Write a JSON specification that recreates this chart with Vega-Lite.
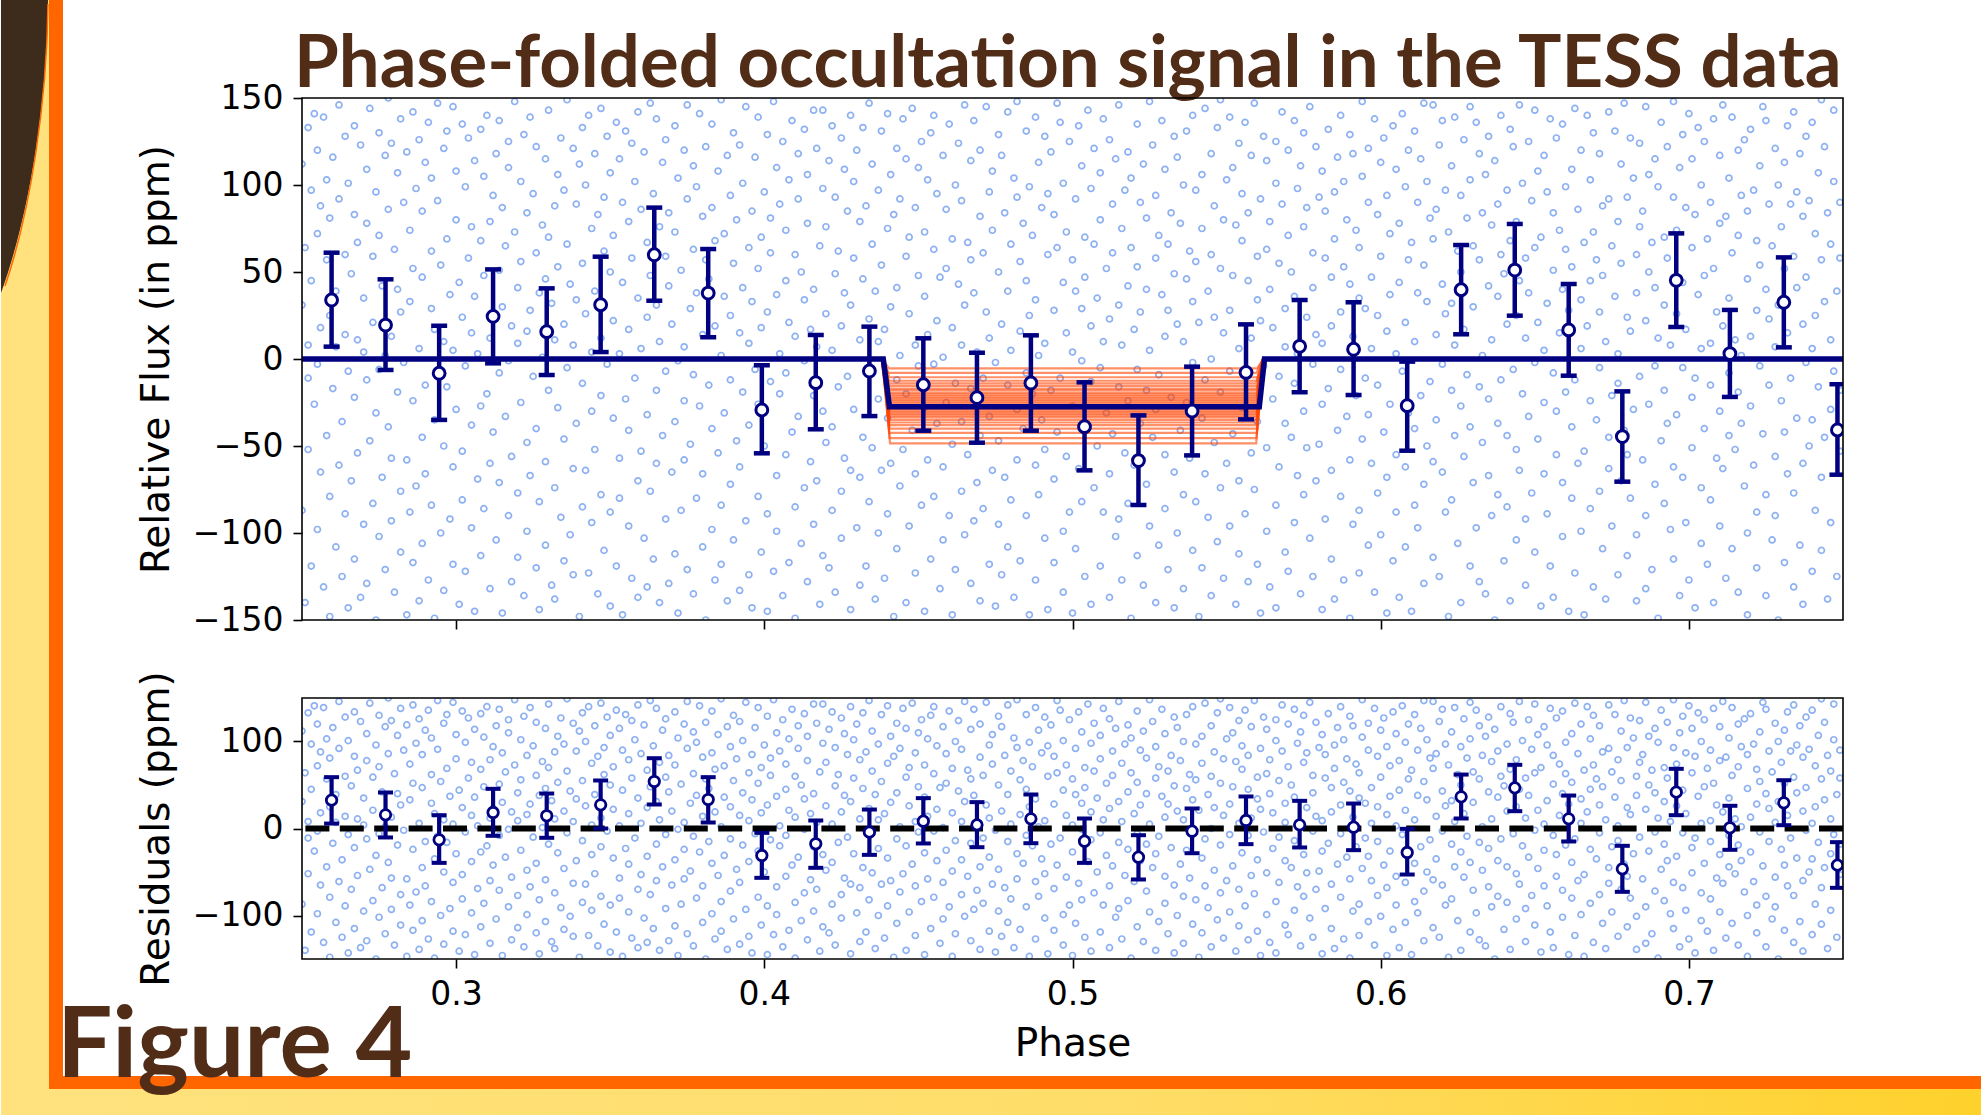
{
"$schema": "https://vega.github.io/schema/vega-lite/v6.json",
"padding": 0,
"background": "#ffffff",
"bounds": "flush",
"spacing": 78,
"config": {
  "view": {"stroke": null},
  "axis": {"zindex": 1, "grid": false, "domain": false, "labelFont": "DejaVu Sans", "labelFontSize": 33, "labelColor": "#000000", "titleFont": "DejaVu Sans", "titleFontSize": 39, "titleFontWeight": "normal", "titleColor": "#000000", "tickColor": "#000000", "tickWidth": 1.6, "tickSize": 9, "labelPadding": 10, "labelFlush": false, "labelOverlap": false},
  "axisY": {"titlePadding": 16},
  "axisX": {"titlePadding": 13}
},
"datasets": {
"bins": [
{"p":0.2596,"v":33.9,"lo":7.1,"hi":61.1,"r":32.6,"rlo":5.7,"rhi":59},
{"p":0.2771,"v":19.5,"lo":-6.3,"hi":45.8,"r":15.7,"rlo":-10.3,"rhi":41.4},
{"p":0.2945,"v":-8.2,"lo":-35,"hi":19.1,"r":-13,"rlo":-39.5,"rhi":15.3},
{"p":0.312,"v":24.5,"lo":-2.5,"hi":51.5,"r":18.4,"rlo":-8.4,"rhi":45.6},
{"p":0.3294,"v":15.7,"lo":-9.2,"hi":40.6,"r":14.6,"rlo":-10.7,"rhi":40.2},
{"p":0.3469,"v":31.2,"lo":4,"hi":58.8,"r":27.2,"rlo":0,"rhi":55.2},
{"p":0.3643,"v":59.9,"lo":33.5,"hi":87,"r":54,"rlo":27.6,"rhi":80.8},
{"p":0.3818,"v":37.9,"lo":12.5,"hi":63.2,"r":33.3,"rlo":6.9,"rhi":59},
{"p":0.3992,"v":-29.3,"lo":-54.2,"hi":-3.6,"r":-31,"rlo":-56.7,"rhi":-5},
{"p":0.4167,"v":-13.6,"lo":-40.4,"hi":13.8,"r":-17.6,"rlo":-45.2,"rhi":9.2},
{"p":0.4341,"v":-6.9,"lo":-32.8,"hi":18.6,"r":-4.2,"rlo":-30.3,"rhi":21.8},
{"p":0.4516,"v":-14.8,"lo":-41.2,"hi":11.9,"r":8.4,"rlo":-17.2,"rhi":34.9},
{"p":0.469,"v":-22.2,"lo":-48.1,"hi":3.6,"r":4.2,"rlo":-21.5,"rhi":30.3},
{"p":0.4865,"v":-13.8,"lo":-41.2,"hi":13.6,"r":11.1,"rlo":-16.9,"rhi":39.1},
{"p":0.5039,"v":-38.9,"lo":-64,"hi":-13.4,"r":-14.6,"rlo":-39.5,"rhi":11.5},
{"p":0.5214,"v":-58.4,"lo":-83.9,"hi":-32.4,"r":-33,"rlo":-58.6,"rhi":-7.7},
{"p":0.5388,"v":-29.9,"lo":-55.4,"hi":-4.4,"r":-3.1,"rlo":-28.4,"rhi":23},
{"p":0.5563,"v":-7.7,"lo":-34.7,"hi":19.9,"r":9.2,"rlo":-18,"rhi":36.8},
{"p":0.5737,"v":7.3,"lo":-19.1,"hi":33.9,"r":4.2,"rlo":-21.8,"rhi":31.8},
{"p":0.5912,"v":5.6,"lo":-20.7,"hi":32.6,"r":1.5,"rlo":-24.9,"rhi":28.7},
{"p":0.6086,"v":-26.8,"lo":-52.7,"hi":-1.5,"r":-27.6,"rlo":-52.9,"rhi":-0.4},
{"p":0.6261,"v":39.8,"lo":14.2,"hi":65.5,"r":36.4,"rlo":11.5,"rhi":62},
{"p":0.6435,"v":51.1,"lo":24.9,"hi":77.6,"r":46.7,"rlo":19.9,"rhi":73.2},
{"p":0.661,"v":16.7,"lo":-9.6,"hi":43.1,"r":11.1,"rlo":-14.9,"rhi":37.9},
{"p":0.6784,"v":-44.6,"lo":-70.5,"hi":-18.6,"r":-46.4,"rlo":-72.8,"rhi":-19.9},
{"p":0.6959,"v":45.2,"lo":18.4,"hi":72.2,"r":41.8,"rlo":15.3,"rhi":68.6},
{"p":0.7133,"v":3.1,"lo":-21.8,"hi":28.2,"r":0.8,"rlo":-24.5,"rhi":26.1},
{"p":0.7308,"v":32.6,"lo":6.7,"hi":58.4,"r":29.5,"rlo":3.8,"rhi":55.5},
{"p":0.7482,"v":-40.8,"lo":-66.5,"hi":-14.5,"r":-42.1,"rlo":-68.2,"rhi":-15.7}
],
"model": [
{"p":0.25,"m":0},{"p":0.4386,"m":0},{"p":0.4406,"m":-27.4},{"p":0.5606,"m":-27.4},{"p":0.5623,"m":0},{"p":0.75,"m":0}
],
"samples": [
{"s":1,"p":0.4384,"f":0},{"s":1,"p":0.4404,"f":-5.4},{"s":1,"p":0.5599,"f":-5.4},{"s":1,"p":0.5619,"f":0},
{"s":2,"p":0.4381,"f":0},{"s":2,"p":0.4403,"f":-8},{"s":2,"p":0.5597,"f":-8},{"s":2,"p":0.5618,"f":0},
{"s":3,"p":0.4385,"f":0},{"s":3,"p":0.4406,"f":-10.5},{"s":3,"p":0.5600,"f":-10.5},{"s":3,"p":0.5621,"f":0},
{"s":4,"p":0.4382,"f":0},{"s":4,"p":0.4404,"f":-12.5},{"s":4,"p":0.5598,"f":-12.5},{"s":4,"p":0.5620,"f":0},
{"s":5,"p":0.4386,"f":0},{"s":5,"p":0.4405,"f":-14},{"s":5,"p":0.5596,"f":-14},{"s":5,"p":0.5617,"f":0},
{"s":6,"p":0.4380,"f":0},{"s":6,"p":0.4403,"f":-15.5},{"s":6,"p":0.5601,"f":-15.5},{"s":6,"p":0.5622,"f":0},
{"s":7,"p":0.4384,"f":0},{"s":7,"p":0.4406,"f":-17},{"s":7,"p":0.5599,"f":-17},{"s":7,"p":0.5619,"f":0},
{"s":8,"p":0.4383,"f":0},{"s":8,"p":0.4405,"f":-18},{"s":8,"p":0.5597,"f":-18},{"s":8,"p":0.5620,"f":0},
{"s":9,"p":0.4385,"f":0},{"s":9,"p":0.4404,"f":-19.5},{"s":9,"p":0.5600,"f":-19.5},{"s":9,"p":0.5618,"f":0},
{"s":10,"p":0.4381,"f":0},{"s":10,"p":0.4406,"f":-20.5},{"s":10,"p":0.5598,"f":-20.5},{"s":10,"p":0.5621,"f":0},
{"s":11,"p":0.4386,"f":0},{"s":11,"p":0.4405,"f":-21.5},{"s":11,"p":0.5599,"f":-21.5},{"s":11,"p":0.5619,"f":0},
{"s":12,"p":0.4382,"f":0},{"s":12,"p":0.4404,"f":-22.5},{"s":12,"p":0.5597,"f":-22.5},{"s":12,"p":0.5620,"f":0},
{"s":13,"p":0.4384,"f":0},{"s":13,"p":0.4406,"f":-23.5},{"s":13,"p":0.5601,"f":-23.5},{"s":13,"p":0.5622,"f":0},
{"s":14,"p":0.4383,"f":0},{"s":14,"p":0.4405,"f":-24.5},{"s":14,"p":0.5598,"f":-24.5},{"s":14,"p":0.5618,"f":0},
{"s":15,"p":0.4385,"f":0},{"s":15,"p":0.4407,"f":-25.5},{"s":15,"p":0.5600,"f":-25.5},{"s":15,"p":0.5620,"f":0},
{"s":16,"p":0.4381,"f":0},{"s":16,"p":0.4404,"f":-26.5},{"s":16,"p":0.5599,"f":-26.5},{"s":16,"p":0.5621,"f":0},
{"s":17,"p":0.4384,"f":0},{"s":17,"p":0.4405,"f":-27.5},{"s":17,"p":0.5597,"f":-27.5},{"s":17,"p":0.5619,"f":0},
{"s":18,"p":0.4386,"f":0},{"s":18,"p":0.4406,"f":-28.5},{"s":18,"p":0.5600,"f":-28.5},{"s":18,"p":0.5620,"f":0},
{"s":19,"p":0.4382,"f":0},{"s":19,"p":0.4405,"f":-29.5},{"s":19,"p":0.5598,"f":-29.5},{"s":19,"p":0.5618,"f":0},
{"s":20,"p":0.4383,"f":0},{"s":20,"p":0.4407,"f":-30.5},{"s":20,"p":0.5601,"f":-30.5},{"s":20,"p":0.5622,"f":0},
{"s":21,"p":0.4385,"f":0},{"s":21,"p":0.4404,"f":-31.5},{"s":21,"p":0.5599,"f":-31.5},{"s":21,"p":0.5619,"f":0},
{"s":22,"p":0.4381,"f":0},{"s":22,"p":0.4406,"f":-32.5},{"s":22,"p":0.5597,"f":-32.5},{"s":22,"p":0.5620,"f":0},
{"s":23,"p":0.4384,"f":0},{"s":23,"p":0.4405,"f":-33.5},{"s":23,"p":0.5600,"f":-33.5},{"s":23,"p":0.5621,"f":0},
{"s":24,"p":0.4386,"f":0},{"s":24,"p":0.4407,"f":-35},{"s":24,"p":0.5598,"f":-35},{"s":24,"p":0.5618,"f":0},
{"s":25,"p":0.4382,"f":0},{"s":25,"p":0.4406,"f":-36.5},{"s":25,"p":0.5599,"f":-36.5},{"s":25,"p":0.5620,"f":0},
{"s":26,"p":0.4383,"f":0},{"s":26,"p":0.4405,"f":-38},{"s":26,"p":0.5597,"f":-38},{"s":26,"p":0.5619,"f":0},
{"s":27,"p":0.4385,"f":0},{"s":27,"p":0.4407,"f":-40},{"s":27,"p":0.5600,"f":-40},{"s":27,"p":0.5621,"f":0},
{"s":28,"p":0.4381,"f":0},{"s":28,"p":0.4406,"f":-42.5},{"s":28,"p":0.5598,"f":-42.5},{"s":28,"p":0.5619,"f":0},
{"s":29,"p":0.4384,"f":0},{"s":29,"p":0.4407,"f":-45.5},{"s":29,"p":0.5597,"f":-45.5},{"s":29,"p":0.5618,"f":0},
{"s":30,"p":0.4383,"f":0},{"s":30,"p":0.4408,"f":-48.5},{"s":30,"p":0.5596,"f":-48.5},{"s":30,"p":0.5617,"f":0}
],
"pts": [
{"p":0.250,"f":-87},{"p":0.250,"f":112},{"p":0.250,"f":31},
{"p":0.251,"f":-140},{"p":0.251,"f":64},
{"p":0.252,"f":8},{"p":0.252,"f":-52},{"p":0.252,"f":133},{"p":0.252,"f":-11},
{"p":0.253,"f":97},{"p":0.253,"f":-119},{"p":0.253,"f":45},
{"p":0.254,"f":-26},{"p":0.254,"f":141},
{"p":0.255,"f":72},{"p":0.255,"f":-98},{"p":0.255,"f":-3},{"p":0.255,"f":120},
{"p":0.256,"f":-65},{"p":0.256,"f":18},{"p":0.256,"f":88},
{"p":0.257,"f":139},{"p":0.257,"f":-131},
{"p":0.258,"f":-44},{"p":0.258,"f":57},{"p":0.258,"f":103},
{"p":0.259,"f":25},{"p":0.259,"f":-79},{"p":0.259,"f":-148},{"p":0.259,"f":81},
{"p":0.260,"f":116},{"p":0.260,"f":-17},
{"p":0.261,"f":-108},{"p":0.261,"f":39},{"p":0.261,"f":7},
{"p":0.262,"f":146},{"p":0.262,"f":-61},{"p":0.262,"f":92},
{"p":0.263,"f":-36},{"p":0.263,"f":-125},
{"p":0.264,"f":60},{"p":0.264,"f":128},{"p":0.264,"f":-89},{"p":0.264,"f":14},
{"p":0.265,"f":-7},{"p":0.265,"f":101},{"p":0.265,"f":-143},
{"p":0.266,"f":49},{"p":0.266,"f":-70},
{"p":0.267,"f":134},{"p":0.267,"f":-22},{"p":0.267,"f":83},{"p":0.267,"f":-115},
{"p":0.268,"f":-54},{"p":0.268,"f":11},{"p":0.268,"f":67},
{"p":0.269,"f":123},{"p":0.269,"f":-137},
{"p":0.270,"f":-95},{"p":0.270,"f":35},{"p":0.270,"f":4},
{"p":0.271,"f":78},{"p":0.271,"f":-12},{"p":0.271,"f":-129},{"p":0.271,"f":109},
{"p":0.272,"f":-47},{"p":0.272,"f":144},
{"p":0.273,"f":21},{"p":0.273,"f":-83},{"p":0.273,"f":59},
{"p":0.274,"f":-150},{"p":0.274,"f":96},{"p":0.274,"f":-31},
{"p":0.275,"f":130},{"p":0.275,"f":-6},{"p":0.275,"f":71},{"p":0.275,"f":-102},
{"p":0.276,"f":-68},{"p":0.276,"f":42},
{"p":0.277,"f":117},{"p":0.277,"f":-121},{"p":0.277,"f":2},
{"p":0.278,"f":-39},{"p":0.278,"f":86},{"p":0.278,"f":150},
{"p":0.279,"f":13},{"p":0.279,"f":-93},{"p":0.279,"f":-57},{"p":0.279,"f":124},
{"p":0.280,"f":63},{"p":0.280,"f":-134},
{"p":0.281,"f":-19},{"p":0.281,"f":107},{"p":0.281,"f":40},
{"p":0.282,"f":-111},{"p":0.282,"f":27},{"p":0.282,"f":-76},{"p":0.282,"f":138},
{"p":0.283,"f":90},{"p":0.283,"f":-2},
{"p":0.284,"f":-58},{"p":0.284,"f":119},{"p":0.284,"f":-147},
{"p":0.285,"f":33},{"p":0.285,"f":-88},{"p":0.285,"f":74},
{"p":0.286,"f":142},{"p":0.286,"f":-24},{"p":0.286,"f":-117},{"p":0.286,"f":52},
{"p":0.287,"f":-73},{"p":0.287,"f":98},
{"p":0.288,"f":6},{"p":0.288,"f":-139},{"p":0.288,"f":126},
{"p":0.289,"f":47},{"p":0.289,"f":-45},{"p":0.289,"f":85},{"p":0.289,"f":-106},
{"p":0.290,"f":-15},{"p":0.290,"f":113},{"p":0.290,"f":-66},
{"p":0.291,"f":136},{"p":0.291,"f":-127},
{"p":0.292,"f":29},{"p":0.292,"f":-84},{"p":0.292,"f":62},{"p":0.292,"f":104},
{"p":0.293,"f":-149},{"p":0.293,"f":17},{"p":0.293,"f":-35},
{"p":0.294,"f":91},{"p":0.294,"f":-9},{"p":0.294,"f":147},
{"p":0.295,"f":-100},{"p":0.295,"f":54},
{"p":0.296,"f":121},{"p":0.296,"f":-50},{"p":0.296,"f":-133},{"p":0.296,"f":10},
{"p":0.297,"f":69},{"p":0.297,"f":-16},{"p":0.297,"f":131},
{"p":0.298,"f":-92},{"p":0.298,"f":37},
{"p":0.299,"f":145},{"p":0.299,"f":-62},{"p":0.299,"f":5},{"p":0.299,"f":-118},
{"p":0.300,"f":80},{"p":0.300,"f":-29},{"p":0.300,"f":108},
{"p":0.301,"f":-141},{"p":0.301,"f":44},
{"p":0.302,"f":24},{"p":0.302,"f":-81},{"p":0.302,"f":135},{"p":0.302,"f":-53},
{"p":0.303,"f":99},{"p":0.303,"f":-4},{"p":0.303,"f":-122},
{"p":0.304,"f":58},{"p":0.304,"f":127},
{"p":0.305,"f":-38},{"p":0.305,"f":76},{"p":0.305,"f":-97},{"p":0.305,"f":15},
{"p":0.306,"f":-145},{"p":0.306,"f":114},{"p":0.306,"f":36},
{"p":0.307,"f":3},{"p":0.307,"f":-69},
{"p":0.308,"f":132},{"p":0.308,"f":-113},{"p":0.308,"f":68},{"p":0.308,"f":-27},
{"p":0.309,"f":48},{"p":0.309,"f":-86},{"p":0.309,"f":105},
{"p":0.310,"f":-20},{"p":0.310,"f":140},
{"p":0.311,"f":-132},{"p":0.311,"f":79},{"p":0.311,"f":12},{"p":0.311,"f":-60},
{"p":0.312,"f":94},{"p":0.312,"f":-42},{"p":0.312,"f":23},
{"p":0.313,"f":118},{"p":0.313,"f":-104},
{"p":0.314,"f":-71},{"p":0.314,"f":51},{"p":0.314,"f":-8},{"p":0.314,"f":137},
{"p":0.315,"f":30},{"p":0.315,"f":-146},{"p":0.315,"f":87},
{"p":0.316,"f":-33},{"p":0.316,"f":65},
{"p":0.317,"f":110},{"p":0.317,"f":-90},{"p":0.317,"f":-1},{"p":0.317,"f":125},
{"p":0.318,"f":-56},{"p":0.318,"f":19},{"p":0.318,"f":-128},
{"p":0.319,"f":73},{"p":0.319,"f":148},
{"p":0.320,"f":-114},{"p":0.320,"f":41},{"p":0.320,"f":-77},{"p":0.320,"f":9},
{"p":0.321,"f":102},{"p":0.321,"f":-25},{"p":0.321,"f":56},
{"p":0.322,"f":-136},{"p":0.322,"f":129},
{"p":0.323,"f":16},{"p":0.323,"f":-48},{"p":0.323,"f":84},{"p":0.323,"f":-99},
{"p":0.324,"f":139},{"p":0.324,"f":-67},{"p":0.324,"f":28},
{"p":0.325,"f":-10},{"p":0.325,"f":95},
{"p":0.326,"f":-120},{"p":0.326,"f":61},{"p":0.326,"f":122},{"p":0.326,"f":-40},
{"p":0.327,"f":38},{"p":0.327,"f":-82},{"p":0.327,"f":-144},
{"p":0.328,"f":77},{"p":0.328,"f":1},
{"p":0.329,"f":-59},{"p":0.329,"f":115},{"p":0.329,"f":-107},{"p":0.329,"f":46},
{"p":0.330,"f":143},{"p":0.330,"f":-18},{"p":0.330,"f":70},
{"p":0.331,"f":-130},{"p":0.331,"f":32},
{"p":0.332,"f":88},{"p":0.332,"f":-74},{"p":0.332,"f":11},{"p":0.332,"f":-138},
{"p":0.333,"f":-28},{"p":0.333,"f":106},{"p":0.333,"f":53},
{"p":0.334,"f":127},{"p":0.334,"f":-91},
{"p":0.335,"f":-46},{"p":0.335,"f":20},{"p":0.335,"f":-116},{"p":0.335,"f":97},
{"p":0.336,"f":66},{"p":0.336,"f":-5},{"p":0.336,"f":149},
{"p":0.337,"f":-101},{"p":0.337,"f":43},
{"p":0.338,"f":121},{"p":0.338,"f":-63},{"p":0.338,"f":8},{"p":0.338,"f":-124},
{"p":0.339,"f":34},{"p":0.339,"f":-37},{"p":0.339,"f":89},
{"p":0.340,"f":-148},{"p":0.340,"f":112},
{"p":0.341,"f":55},{"p":0.341,"f":-85},{"p":0.341,"f":-14},{"p":0.341,"f":133},
{"p":0.342,"f":-64},{"p":0.342,"f":26},{"p":0.342,"f":100},
{"p":0.343,"f":140},{"p":0.343,"f":-123},
{"p":0.344,"f":-30},{"p":0.344,"f":75},{"p":0.344,"f":-94},{"p":0.344,"f":4},
{"p":0.345,"f":118},{"p":0.345,"f":-52},{"p":0.345,"f":39},
{"p":0.346,"f":-135},{"p":0.346,"f":83},
{"p":0.347,"f":12},{"p":0.347,"f":-78},{"p":0.347,"f":144},{"p":0.347,"f":-21},
{"p":0.348,"f":62},{"p":0.348,"f":-110},{"p":0.348,"f":93},
{"p":0.349,"f":-3},{"p":0.349,"f":128},
{"p":0.350,"f":-88},{"p":0.350,"f":50},{"p":0.350,"f":-142},{"p":0.350,"f":107},
{"p":0.351,"f":22},{"p":0.351,"f":-34},{"p":0.351,"f":71},
{"p":0.352,"f":136},{"p":0.352,"f":-119},
{"p":0.353,"f":-57},{"p":0.353,"f":3},{"p":0.353,"f":115},{"p":0.353,"f":-80},
{"p":0.354,"f":44},{"p":0.354,"f":-147},{"p":0.354,"f":90},
{"p":0.355,"f":-23},{"p":0.355,"f":131},
{"p":0.356,"f":79},{"p":0.356,"f":-96},{"p":0.356,"f":-41},{"p":0.356,"f":17},
{"p":0.357,"f":-126},{"p":0.357,"f":58},{"p":0.357,"f":124},
{"p":0.358,"f":102},{"p":0.358,"f":-11},
{"p":0.359,"f":-70},{"p":0.359,"f":35},{"p":0.359,"f":-137},{"p":0.359,"f":142},
{"p":0.360,"f":6},{"p":0.360,"f":-53},{"p":0.360,"f":86},
{"p":0.361,"f":119},{"p":0.361,"f":-103},
{"p":0.362,"f":-32},{"p":0.362,"f":67},{"p":0.362,"f":24},{"p":0.362,"f":-131},
{"p":0.363,"f":147},{"p":0.363,"f":-76},{"p":0.363,"f":48},
{"p":0.364,"f":-115},{"p":0.364,"f":95},
{"p":0.365,"f":31},{"p":0.365,"f":-18},{"p":0.365,"f":138},{"p":0.365,"f":-60},
{"p":0.366,"f":76},{"p":0.366,"f":-140},{"p":0.366,"f":10},
{"p":0.367,"f":-44},{"p":0.367,"f":113},
{"p":0.368,"f":59},{"p":0.368,"f":-92},{"p":0.368,"f":-7},{"p":0.368,"f":126},
{"p":0.369,"f":-129},{"p":0.369,"f":42},{"p":0.369,"f":84},
{"p":0.370,"f":20},{"p":0.370,"f":-65},
{"p":0.371,"f":134},{"p":0.371,"f":-112},{"p":0.371,"f":73},{"p":0.371,"f":-36},
{"p":0.372,"f":-1},{"p":0.372,"f":104},{"p":0.372,"f":-146},
{"p":0.373,"f":51},{"p":0.373,"f":-87},
{"p":0.374,"f":-24},{"p":0.374,"f":120},{"p":0.374,"f":-58},{"p":0.374,"f":7},
{"p":0.375,"f":92},{"p":0.375,"f":-121},{"p":0.375,"f":146},
{"p":0.376,"f":-49},{"p":0.376,"f":29},
{"p":0.377,"f":111},{"p":0.377,"f":-9},{"p":0.377,"f":-135},{"p":0.377,"f":63},
{"p":0.378,"f":-80},{"p":0.378,"f":38},{"p":0.378,"f":99},
{"p":0.379,"f":141},{"p":0.379,"f":-27},
{"p":0.380,"f":-108},{"p":0.380,"f":14},{"p":0.380,"f":82},{"p":0.380,"f":-66},
{"p":0.381,"f":57},{"p":0.381,"f":-150},{"p":0.381,"f":122},
{"p":0.382,"f":-15},{"p":0.382,"f":46},
{"p":0.383,"f":87},{"p":0.383,"f":-98},{"p":0.383,"f":-40},{"p":0.383,"f":135},
{"p":0.384,"f":-127},{"p":0.384,"f":19},{"p":0.384,"f":68},
{"p":0.385,"f":108},{"p":0.385,"f":-54},
{"p":0.386,"f":2},{"p":0.386,"f":-84},{"p":0.386,"f":149},{"p":0.386,"f":-118},
{"p":0.387,"f":72},{"p":0.387,"f":-31},{"p":0.387,"f":36},
{"p":0.388,"f":-139},{"p":0.388,"f":117},
{"p":0.389,"f":25},{"p":0.389,"f":-72},{"p":0.389,"f":94},{"p":0.389,"f":-12},
{"p":0.390,"f":130},{"p":0.390,"f":-104},{"p":0.390,"f":55},
{"p":0.391,"f":-47},{"p":0.391,"f":80},
{"p":0.392,"f":-133},{"p":0.392,"f":15},{"p":0.392,"f":123},{"p":0.392,"f":-62},
{"p":0.393,"f":41},{"p":0.393,"f":-19},{"p":0.393,"f":101},
{"p":0.394,"f":145},{"p":0.394,"f":-93},
{"p":0.395,"f":-38},{"p":0.395,"f":64},{"p":0.395,"f":-124},{"p":0.395,"f":9},
{"p":0.396,"f":85},{"p":0.396,"f":-143},{"p":0.396,"f":33},
{"p":0.397,"f":-6},{"p":0.397,"f":116},
{"p":0.398,"f":52},{"p":0.398,"f":-79},{"p":0.398,"f":-26},{"p":0.398,"f":139},
{"p":0.399,"f":-111},{"p":0.399,"f":70},{"p":0.399,"f":18},
{"p":0.400,"f":96},{"p":0.400,"f":-50},
{"p":0.401,"f":-145},{"p":0.401,"f":27},{"p":0.401,"f":129},{"p":0.401,"f":-89},
{"p":0.402,"f":61},{"p":0.402,"f":-13},{"p":0.402,"f":81},
{"p":0.403,"f":-122},{"p":0.403,"f":148},
{"p":0.404,"f":37},{"p":0.404,"f":-67},{"p":0.404,"f":-99},{"p":0.404,"f":110},
{"p":0.405,"f":-20},{"p":0.405,"f":89},{"p":0.405,"f":3},
{"p":0.406,"f":125},{"p":0.406,"f":-136},
{"p":0.407,"f":-55},{"p":0.407,"f":45},{"p":0.407,"f":74},{"p":0.407,"f":-8},
{"p":0.408,"f":103},{"p":0.408,"f":-117},{"p":0.408,"f":21},
{"p":0.409,"f":-42},{"p":0.409,"f":137},
{"p":0.410,"f":13},{"p":0.410,"f":-85},{"p":0.410,"f":60},{"p":0.410,"f":-149},
{"p":0.411,"f":92},{"p":0.411,"f":-33},{"p":0.411,"f":118},
{"p":0.412,"f":-106},{"p":0.412,"f":50},
{"p":0.413,"f":132},{"p":0.413,"f":-1},{"p":0.413,"f":-74},{"p":0.413,"f":34},
{"p":0.414,"f":-128},{"p":0.414,"f":78},{"p":0.414,"f":106},
{"p":0.415,"f":17},{"p":0.415,"f":-59},
{"p":0.416,"f":143},{"p":0.416,"f":-95},{"p":0.416,"f":40},{"p":0.416,"f":-21},
{"p":0.417,"f":-70},{"p":0.417,"f":121},{"p":0.417,"f":7},
{"p":0.418,"f":65},{"p":0.418,"f":-141},
{"p":0.419,"f":-30},{"p":0.419,"f":98},{"p":0.419,"f":-113},{"p":0.419,"f":143},
{"p":0.420,"f":26},{"p":0.420,"f":-48},{"p":0.420,"f":76},
{"p":0.421,"f":114},{"p":0.421,"f":-120},
{"p":0.422,"f":-87},{"p":0.422,"f":5},{"p":0.422,"f":134},{"p":0.422,"f":-39},
{"p":0.423,"f":49},{"p":0.423,"f":-134},{"p":0.423,"f":93},
{"p":0.424,"f":-16},{"p":0.424,"f":62},
{"p":0.425,"f":127},{"p":0.425,"f":-76},{"p":0.425,"f":-103},{"p":0.425,"f":19},
{"p":0.426,"f":-57},{"p":0.426,"f":109},{"p":0.426,"f":38},
{"p":0.427,"f":85},{"p":0.427,"f":-10},
{"p":0.428,"f":-144},{"p":0.428,"f":31},{"p":0.428,"f":140},{"p":0.428,"f":-64},
{"p":0.429,"f":58},{"p":0.429,"f":-29},{"p":0.429,"f":102},
{"p":0.430,"f":-97},{"p":0.430,"f":120},
{"p":0.431,"f":11},{"p":0.431,"f":-68},{"p":0.431,"f":79},{"p":0.431,"f":-130},
{"p":0.432,"f":133},{"p":0.432,"f":-45},{"p":0.432,"f":46},
{"p":0.433,"f":-119},{"p":0.433,"f":88},
{"p":0.434,"f":23},{"p":0.434,"f":-7},{"p":0.434,"f":-82},{"p":0.434,"f":147},
{"p":0.435,"f":-51},{"p":0.435,"f":66},{"p":0.435,"f":112},
{"p":0.436,"f":39},{"p":0.436,"f":-138},
{"p":0.437,"f":97},{"p":0.437,"f":-23},{"p":0.437,"f":10},{"p":0.437,"f":-100},
{"p":0.438,"f":-64},{"p":0.438,"f":131},{"p":0.438,"f":54},
{"p":0.439,"f":-126},{"p":0.439,"f":17},
{"p":0.440,"f":75},{"p":0.440,"f":-89},{"p":0.440,"f":141},{"p":0.440,"f":-34},
{"p":0.441,"f":30},{"p":0.441,"f":-60},{"p":0.441,"f":106},
{"p":0.442,"f":-148},{"p":0.442,"f":83},
{"p":0.443,"f":121},{"p":0.443,"f":-12},{"p":0.443,"f":-109},{"p":0.443,"f":41},
{"p":0.444,"f":-73},{"p":0.444,"f":2},{"p":0.444,"f":92},
{"p":0.445,"f":138},{"p":0.445,"f":-52},
{"p":0.446,"f":-20},{"p":0.446,"f":59},{"p":0.446,"f":-140},{"p":0.446,"f":115},
{"p":0.447,"f":70},{"p":0.447,"f":-96},{"p":0.447,"f":26},
{"p":0.448,"f":-41},{"p":0.448,"f":144},
{"p":0.449,"f":8},{"p":0.449,"f":-123},{"p":0.449,"f":87},{"p":0.449,"f":-66},
{"p":0.450,"f":110},{"p":0.450,"f":-4},{"p":0.450,"f":48},
{"p":0.451,"f":-84},{"p":0.451,"f":125},
{"p":0.452,"f":36},{"p":0.452,"f":-145},{"p":0.452,"f":-28},{"p":0.452,"f":73},
{"p":0.453,"f":-58},{"p":0.453,"f":103},{"p":0.453,"f":14},
{"p":0.454,"f":130},{"p":0.454,"f":-115},
{"p":0.455,"f":-3},{"p":0.455,"f":63},{"p":0.455,"f":-79},{"p":0.455,"f":140},
{"p":0.456,"f":95},{"p":0.456,"f":-37},{"p":0.456,"f":22},
{"p":0.457,"f":-132},{"p":0.457,"f":47},
{"p":0.458,"f":117},{"p":0.458,"f":-62},{"p":0.458,"f":1},{"p":0.458,"f":-104},
{"p":0.459,"f":52},{"p":0.459,"f":-25},{"p":0.459,"f":86},
{"p":0.460,"f":-90},{"p":0.460,"f":135},
{"p":0.461,"f":18},{"p":0.461,"f":-147},{"p":0.461,"f":69},{"p":0.461,"f":-49},
{"p":0.462,"f":100},{"p":0.462,"f":-14},{"p":0.462,"f":-121},
{"p":0.463,"f":43},{"p":0.463,"f":124},
{"p":0.464,"f":-76},{"p":0.464,"f":8},{"p":0.464,"f":91},{"p":0.464,"f":-36},
{"p":0.465,"f":146},{"p":0.465,"f":-101},{"p":0.465,"f":31},
{"p":0.466,"f":-55},{"p":0.466,"f":67},
{"p":0.467,"f":114},{"p":0.467,"f":-129},{"p":0.467,"f":-17},{"p":0.467,"f":57},
{"p":0.468,"f":-93},{"p":0.468,"f":38},{"p":0.468,"f":137},
{"p":0.469,"f":4},{"p":0.469,"f":-71},
{"p":0.470,"f":82},{"p":0.470,"f":-44},{"p":0.470,"f":120},{"p":0.470,"f":-139},
{"p":0.471,"f":-11},{"p":0.471,"f":61},{"p":0.471,"f":-86},
{"p":0.472,"f":145},{"p":0.472,"f":27},
{"p":0.473,"f":-118},{"p":0.473,"f":96},{"p":0.473,"f":-33},{"p":0.473,"f":12},
{"p":0.474,"f":74},{"p":0.474,"f":-64},{"p":0.474,"f":108},
{"p":0.475,"f":-2},{"p":0.475,"f":-142},
{"p":0.476,"f":129},{"p":0.476,"f":-47},{"p":0.476,"f":50},{"p":0.476,"f":-95},
{"p":0.477,"f":20},{"p":0.477,"f":117},{"p":0.477,"f":-124},
{"p":0.478,"f":-68},{"p":0.478,"f":84},
{"p":0.479,"f":39},{"p":0.479,"f":-15},{"p":0.479,"f":142},{"p":0.479,"f":-108},
{"p":0.480,"f":-81},{"p":0.480,"f":66},{"p":0.480,"f":5},
{"p":0.481,"f":104},{"p":0.481,"f":-137},
{"p":0.482,"f":-29},{"p":0.482,"f":93},{"p":0.482,"f":-58},{"p":0.482,"f":148},
{"p":0.483,"f":56},{"p":0.483,"f":-116},{"p":0.483,"f":16},
{"p":0.484,"f":-40},{"p":0.484,"f":78},
{"p":0.485,"f":131},{"p":0.485,"f":-90},{"p":0.485,"f":-8},{"p":0.485,"f":45},
{"p":0.486,"f":-147},{"p":0.486,"f":25},{"p":0.486,"f":99},
{"p":0.487,"f":71},{"p":0.487,"f":-20},
{"p":0.488,"f":-61},{"p":0.488,"f":139},{"p":0.488,"f":34},{"p":0.488,"f":-127},
{"p":0.489,"f":113},{"p":0.489,"f":-78},{"p":0.489,"f":2},
{"p":0.490,"f":-35},{"p":0.490,"f":87},
{"p":0.491,"f":9},{"p":0.491,"f":-103},{"p":0.491,"f":128},{"p":0.491,"f":-52},
{"p":0.492,"f":60},{"p":0.492,"f":-144},{"p":0.492,"f":95},
{"p":0.493,"f":-18},{"p":0.493,"f":119},
{"p":0.494,"f":83},{"p":0.494,"f":-69},{"p":0.494,"f":-117},{"p":0.494,"f":28},
{"p":0.495,"f":-42},{"p":0.495,"f":147},{"p":0.495,"f":64},
{"p":0.496,"f":136},{"p":0.496,"f":-11},
{"p":0.497,"f":-99},{"p":0.497,"f":44},{"p":0.497,"f":-134},{"p":0.497,"f":101},
{"p":0.498,"f":15},{"p":0.498,"f":-56},{"p":0.498,"f":73},
{"p":0.499,"f":125},{"p":0.499,"f":-88},
{"p":0.500,"f":-27},{"p":0.500,"f":57},{"p":0.500,"f":4},{"p":0.500,"f":-146},
{"p":0.501,"f":92},{"p":0.501,"f":-109},{"p":0.501,"f":39},
{"p":0.502,"f":-63},{"p":0.502,"f":134},
{"p":0.503,"f":29},{"p":0.503,"f":-1},{"p":0.503,"f":-82},{"p":0.503,"f":111},
{"p":0.504,"f":-125},{"p":0.504,"f":70},{"p":0.504,"f":47},
{"p":0.505,"f":143},{"p":0.505,"f":-38},
{"p":0.506,"f":-13},{"p":0.506,"f":98},{"p":0.506,"f":-141},{"p":0.506,"f":19},
{"p":0.507,"f":66},{"p":0.507,"f":-74},{"p":0.507,"f":121},
{"p":0.508,"f":-50},{"p":0.508,"f":35},
{"p":0.509,"f":107},{"p":0.509,"f":-119},{"p":0.509,"f":-5},{"p":0.509,"f":80},
{"p":0.510,"f":-88},{"p":0.510,"f":10},{"p":0.510,"f":138},
{"p":0.511,"f":52},{"p":0.511,"f":-31},
{"p":0.512,"f":-137},{"p":0.512,"f":126},{"p":0.512,"f":23},{"p":0.512,"f":-66},
{"p":0.513,"f":89},{"p":0.513,"f":-43},{"p":0.513,"f":61},
{"p":0.514,"f":-102},{"p":0.514,"f":115},
{"p":0.515,"f":31},{"p":0.515,"f":-16},{"p":0.515,"f":146},{"p":0.515,"f":-92},
{"p":0.516,"f":75},{"p":0.516,"f":-127},{"p":0.516,"f":8},
{"p":0.517,"f":-54},{"p":0.517,"f":97},
{"p":0.518,"f":119},{"p":0.518,"f":-83},{"p":0.518,"f":-24},{"p":0.518,"f":42},
{"p":0.519,"f":-149},{"p":0.519,"f":64},{"p":0.519,"f":104},
{"p":0.520,"f":17},{"p":0.520,"f":-61},
{"p":0.521,"f":135},{"p":0.521,"f":-6},{"p":0.521,"f":-113},{"p":0.521,"f":53},
{"p":0.522,"f":-37},{"p":0.522,"f":90},{"p":0.522,"f":27},
{"p":0.523,"f":112},{"p":0.523,"f":-130},
{"p":0.524,"f":-72},{"p":0.524,"f":40},{"p":0.524,"f":81},{"p":0.524,"f":-18},
{"p":0.525,"f":148},{"p":0.525,"f":-96},{"p":0.525,"f":5},
{"p":0.526,"f":-45},{"p":0.526,"f":123},
{"p":0.527,"f":58},{"p":0.527,"f":-140},{"p":0.527,"f":-29},{"p":0.527,"f":94},
{"p":0.528,"f":-9},{"p":0.528,"f":71},{"p":0.528,"f":-107},
{"p":0.529,"f":37},{"p":0.529,"f":137},
{"p":0.530,"f":-86},{"p":0.530,"f":13},{"p":0.530,"f":109},{"p":0.530,"f":-55},
{"p":0.531,"f":66},{"p":0.531,"f":-121},{"p":0.531,"f":28},
{"p":0.532,"f":-22},{"p":0.532,"f":84},
{"p":0.533,"f":128},{"p":0.533,"f":-65},{"p":0.533,"f":-143},{"p":0.533,"f":49},
{"p":0.534,"f":-100},{"p":0.534,"f":20},{"p":0.534,"f":116},
{"p":0.535,"f":78},{"p":0.535,"f":-41},
{"p":0.536,"f":-132},{"p":0.536,"f":100},{"p":0.536,"f":10},{"p":0.536,"f":-78},
{"p":0.537,"f":46},{"p":0.537,"f":-25},{"p":0.537,"f":131},
{"p":0.538,"f":-57},{"p":0.538,"f":62},
{"p":0.539,"f":140},{"p":0.539,"f":-110},{"p":0.539,"f":-2},{"p":0.539,"f":33},
{"p":0.540,"f":-82},{"p":0.540,"f":97},{"p":0.540,"f":56},
{"p":0.541,"f":21},{"p":0.541,"f":-148},
{"p":0.542,"f":106},{"p":0.542,"f":-34},{"p":0.542,"f":75},{"p":0.542,"f":-120},
{"p":0.543,"f":-66},{"p":0.543,"f":144},{"p":0.543,"f":-12},
{"p":0.544,"f":39},{"p":0.544,"f":-91},
{"p":0.545,"f":118},{"p":0.545,"f":0},{"p":0.545,"f":-136},{"p":0.545,"f":60},
{"p":0.546,"f":-48},{"p":0.546,"f":88},{"p":0.546,"f":24},
{"p":0.547,"f":133},{"p":0.547,"f":-105},
{"p":0.548,"f":-19},{"p":0.548,"f":52},{"p":0.548,"f":-74},{"p":0.548,"f":149},
{"p":0.549,"f":80},{"p":0.549,"f":-126},{"p":0.549,"f":15},
{"p":0.550,"f":-60},{"p":0.550,"f":103},
{"p":0.551,"f":28},{"p":0.551,"f":-96},{"p":0.551,"f":139},{"p":0.551,"f":-7},
{"p":0.552,"f":110},{"p":0.552,"f":-43},{"p":0.552,"f":48},
{"p":0.553,"f":-141},{"p":0.553,"f":77},
{"p":0.554,"f":6},{"p":0.554,"f":-70},{"p":0.554,"f":124},{"p":0.554,"f":-112},
{"p":0.555,"f":68},{"p":0.555,"f":-28},{"p":0.555,"f":95},
{"p":0.556,"f":-89},{"p":0.556,"f":136},
{"p":0.557,"f":45},{"p":0.557,"f":-8},{"p":0.557,"f":-128},{"p":0.557,"f":84},
{"p":0.558,"f":-54},{"p":0.558,"f":117},{"p":0.558,"f":12},
{"p":0.559,"f":147},{"p":0.559,"f":-75},
{"p":0.560,"f":-118},{"p":0.560,"f":34},{"p":0.560,"f":59},{"p":0.560,"f":-36},
{"p":0.561,"f":92},{"p":0.561,"f":-146},{"p":0.561,"f":22},
{"p":0.562,"f":-4},{"p":0.562,"f":128},
{"p":0.563,"f":63},{"p":0.563,"f":-99},{"p":0.563,"f":-51},{"p":0.563,"f":114},
{"p":0.564,"f":-131},{"p":0.564,"f":40},{"p":0.564,"f":79},
{"p":0.565,"f":18},{"p":0.565,"f":-23},
{"p":0.566,"f":125},{"p":0.566,"f":-84},{"p":0.566,"f":101},{"p":0.566,"f":-143},
{"p":0.567,"f":-10},{"p":0.567,"f":55},{"p":0.567,"f":-62},
{"p":0.568,"f":89},{"p":0.568,"f":142},
{"p":0.569,"f":-111},{"p":0.569,"f":29},{"p":0.569,"f":-37},{"p":0.569,"f":7},
{"p":0.570,"f":71},{"p":0.570,"f":-122},{"p":0.570,"f":120},
{"p":0.571,"f":-45},{"p":0.571,"f":50},
{"p":0.572,"f":137},{"p":0.572,"f":-14},{"p":0.572,"f":-94},{"p":0.572,"f":36},
{"p":0.573,"f":-67},{"p":0.573,"f":98},{"p":0.573,"f":3},
{"p":0.574,"f":111},{"p":0.574,"f":-135},
{"p":0.575,"f":-30},{"p":0.575,"f":76},{"p":0.575,"f":-78},{"p":0.575,"f":130},
{"p":0.576,"f":24},{"p":0.576,"f":-51},{"p":0.576,"f":87},
{"p":0.577,"f":-103},{"p":0.577,"f":145},
{"p":0.578,"f":61},{"p":0.578,"f":-3},{"p":0.578,"f":41},{"p":0.578,"f":-125},
{"p":0.579,"f":122},{"p":0.579,"f":-70},{"p":0.579,"f":14},
{"p":0.580,"f":-49},{"p":0.580,"f":93},
{"p":0.581,"f":9},{"p":0.581,"f":-144},{"p":0.581,"f":108},{"p":0.581,"f":-26},
{"p":0.582,"f":85},{"p":0.582,"f":-92},{"p":0.582,"f":58},
{"p":0.583,"f":-17},{"p":0.583,"f":132},
{"p":0.584,"f":47},{"p":0.584,"f":-64},{"p":0.584,"f":-115},{"p":0.584,"f":19},
{"p":0.585,"f":-138},{"p":0.585,"f":96},{"p":0.585,"f":69},
{"p":0.586,"f":116},{"p":0.586,"f":-41},
{"p":0.587,"f":-79},{"p":0.587,"f":27},{"p":0.587,"f":140},{"p":0.587,"f":-6},
{"p":0.588,"f":53},{"p":0.588,"f":-127},{"p":0.588,"f":102},
{"p":0.589,"f":-33},{"p":0.589,"f":80},
{"p":0.590,"f":129},{"p":0.590,"f":-58},{"p":0.590,"f":-149},{"p":0.590,"f":43},
{"p":0.591,"f":-95},{"p":0.591,"f":13},{"p":0.591,"f":118},
{"p":0.592,"f":74},{"p":0.592,"f":-21},
{"p":0.593,"f":-123},{"p":0.593,"f":64},{"p":0.593,"f":35},{"p":0.593,"f":-87},
{"p":0.594,"f":105},{"p":0.594,"f":-46},{"p":0.594,"f":148},
{"p":0.595,"f":-11},{"p":0.595,"f":29},
{"p":0.596,"f":90},{"p":0.596,"f":-107},{"p":0.596,"f":-32},{"p":0.596,"f":121},
{"p":0.597,"f":-60},{"p":0.597,"f":47},{"p":0.597,"f":6},
{"p":0.598,"f":138},{"p":0.598,"f":-134},
{"p":0.599,"f":25},{"p":0.599,"f":-77},{"p":0.599,"f":83},{"p":0.599,"f":-15},
{"p":0.600,"f":113},{"p":0.600,"f":-101},{"p":0.600,"f":59},
{"p":0.601,"f":-42},{"p":0.601,"f":127},
{"p":0.602,"f":-146},{"p":0.602,"f":16},{"p":0.602,"f":94},{"p":0.602,"f":-68},
{"p":0.603,"f":72},{"p":0.603,"f":-26},{"p":0.603,"f":37},
{"p":0.604,"f":134},{"p":0.604,"f":-116},
{"p":0.605,"f":-55},{"p":0.605,"f":3},{"p":0.605,"f":-88},{"p":0.605,"f":109},
{"p":0.606,"f":44},{"p":0.606,"f":-137},{"p":0.606,"f":78},
{"p":0.607,"f":-7},{"p":0.607,"f":141},
{"p":0.608,"f":99},{"p":0.608,"f":-62},{"p":0.608,"f":21},{"p":0.608,"f":-108},
{"p":0.609,"f":-31},{"p":0.609,"f":120},{"p":0.609,"f":57},
{"p":0.610,"f":67},{"p":0.610,"f":-145},
{"p":0.611,"f":-84},{"p":0.611,"f":10},{"p":0.611,"f":131},{"p":0.611,"f":-40},
{"p":0.612,"f":38},{"p":0.612,"f":-97},{"p":0.612,"f":90},
{"p":0.613,"f":-21},{"p":0.613,"f":115},
{"p":0.614,"f":147},{"p":0.614,"f":-72},{"p":0.614,"f":-129},{"p":0.614,"f":54},
{"p":0.615,"f":-50},{"p":0.615,"f":33},{"p":0.615,"f":102},
{"p":0.616,"f":81},{"p":0.616,"f":-13},
{"p":0.617,"f":-114},{"p":0.617,"f":69},{"p":0.617,"f":146},{"p":0.617,"f":-59},
{"p":0.618,"f":14},{"p":0.618,"f":-35},{"p":0.618,"f":86},
{"p":0.619,"f":123},{"p":0.619,"f":-125},
{"p":0.620,"f":-65},{"p":0.620,"f":43},{"p":0.620,"f":-3},{"p":0.620,"f":137},
{"p":0.621,"f":97},{"p":0.621,"f":-88},{"p":0.621,"f":26},
{"p":0.622,"f":-148},{"p":0.622,"f":73},
{"p":0.623,"f":32},{"p":0.623,"f":-18},{"p":0.623,"f":111},{"p":0.623,"f":-81},
{"p":0.624,"f":-44},{"p":0.624,"f":139},{"p":0.624,"f":8},
{"p":0.625,"f":62},{"p":0.625,"f":-106},
{"p":0.626,"f":-27},{"p":0.626,"f":94},{"p":0.626,"f":-140},{"p":0.626,"f":50},
{"p":0.627,"f":126},{"p":0.627,"f":-56},{"p":0.627,"f":17},
{"p":0.628,"f":-9},{"p":0.628,"f":81},
{"p":0.629,"f":103},{"p":0.629,"f":-119},{"p":0.629,"f":-39},{"p":0.629,"f":145},
{"p":0.630,"f":-71},{"p":0.630,"f":30},{"p":0.630,"f":65},
{"p":0.631,"f":136},{"p":0.631,"f":-97},
{"p":0.632,"f":-16},{"p":0.632,"f":57},{"p":0.632,"f":-128},{"p":0.632,"f":118},
{"p":0.633,"f":84},{"p":0.633,"f":-48},{"p":0.633,"f":2},
{"p":0.634,"f":-135},{"p":0.634,"f":106},
{"p":0.635,"f":42},{"p":0.635,"f":-67},{"p":0.635,"f":128},{"p":0.635,"f":-23},
{"p":0.636,"f":-90},{"p":0.636,"f":11},{"p":0.636,"f":77},
{"p":0.637,"f":114},{"p":0.637,"f":-150},
{"p":0.638,"f":-37},{"p":0.638,"f":89},{"p":0.638,"f":36},{"p":0.638,"f":-78},
{"p":0.639,"f":60},{"p":0.639,"f":-12},{"p":0.639,"f":140},
{"p":0.640,"f":-116},{"p":0.640,"f":49},
{"p":0.641,"f":20},{"p":0.641,"f":-85},{"p":0.641,"f":97},{"p":0.641,"f":-44},
{"p":0.642,"f":132},{"p":0.642,"f":-139},{"p":0.642,"f":68},
{"p":0.643,"f":-6},{"p":0.643,"f":122},
{"p":0.644,"f":79},{"p":0.644,"f":-52},{"p":0.644,"f":-104},{"p":0.644,"f":25},
{"p":0.645,"f":-64},{"p":0.645,"f":146},{"p":0.645,"f":45},
{"p":0.646,"f":101},{"p":0.646,"f":-20},
{"p":0.647,"f":-130},{"p":0.647,"f":58},{"p":0.647,"f":12},{"p":0.647,"f":-92},
{"p":0.648,"f":38},{"p":0.648,"f":-33},{"p":0.648,"f":125},
{"p":0.649,"f":-77},{"p":0.649,"f":91},
{"p":0.650,"f":143},{"p":0.650,"f":-111},{"p":0.650,"f":-2},{"p":0.650,"f":64},
{"p":0.651,"f":-46},{"p":0.651,"f":21},{"p":0.651,"f":108},
{"p":0.652,"f":70},{"p":0.652,"f":-142},
{"p":0.653,"f":-25},{"p":0.653,"f":117},{"p":0.653,"f":-66},{"p":0.653,"f":5},
{"p":0.654,"f":96},{"p":0.654,"f":-89},{"p":0.654,"f":32},
{"p":0.655,"f":-119},{"p":0.655,"f":138},
{"p":0.656,"f":51},{"p":0.656,"f":-8},{"p":0.656,"f":84},{"p":0.656,"f":-137},
{"p":0.657,"f":127},{"p":0.657,"f":-55},{"p":0.657,"f":-30},
{"p":0.658,"f":15},{"p":0.658,"f":74},
{"p":0.659,"f":-102},{"p":0.659,"f":40},{"p":0.659,"f":135},{"p":0.659,"f":-71},
{"p":0.660,"f":63},{"p":0.660,"f":-19},{"p":0.660,"f":99},
{"p":0.661,"f":-145},{"p":0.661,"f":28},
{"p":0.662,"f":109},{"p":0.662,"f":-80},{"p":0.662,"f":53},{"p":0.662,"f":-39},
{"p":0.663,"f":-12},{"p":0.663,"f":144},{"p":0.663,"f":-123},
{"p":0.664,"f":86},{"p":0.664,"f":-60},
{"p":0.665,"f":34},{"p":0.665,"f":-99},{"p":0.665,"f":120},{"p":0.665,"f":6},
{"p":0.666,"f":-53},{"p":0.666,"f":67},{"p":0.666,"f":-147},
{"p":0.667,"f":140},{"p":0.667,"f":19},
{"p":0.668,"f":-86},{"p":0.668,"f":45},{"p":0.668,"f":-24},{"p":0.668,"f":103},
{"p":0.669,"f":73},{"p":0.669,"f":-131},{"p":0.669,"f":130},
{"p":0.670,"f":-35},{"p":0.670,"f":57},
{"p":0.671,"f":118},{"p":0.671,"f":-5},{"p":0.671,"f":-76},{"p":0.671,"f":27},
{"p":0.672,"f":-109},{"p":0.672,"f":88},{"p":0.672,"f":48},
{"p":0.673,"f":10},{"p":0.673,"f":-138},
{"p":0.674,"f":92},{"p":0.674,"f":-45},{"p":0.674,"f":142},{"p":0.674,"f":-63},
{"p":0.675,"f":-21},{"p":0.675,"f":65},{"p":0.675,"f":-96},
{"p":0.676,"f":131},{"p":0.676,"f":36},
{"p":0.677,"f":-124},{"p":0.677,"f":3},{"p":0.677,"f":79},{"p":0.677,"f":-14},
{"p":0.678,"f":55},{"p":0.678,"f":-70},{"p":0.678,"f":112},
{"p":0.679,"f":-41},{"p":0.679,"f":147},
{"p":0.680,"f":24},{"p":0.680,"f":-113},{"p":0.680,"f":-55},{"p":0.680,"f":93},
{"p":0.681,"f":-80},{"p":0.681,"f":127},{"p":0.681,"f":16},
{"p":0.682,"f":104},{"p":0.682,"f":-29},
{"p":0.683,"f":-139},{"p":0.683,"f":60},{"p":0.683,"f":38},{"p":0.683,"f":-101},
{"p":0.684,"f":76},{"p":0.684,"f":-10},{"p":0.684,"f":124},
{"p":0.685,"f":-58},{"p":0.685,"f":85},
{"p":0.686,"f":145},{"p":0.686,"f":-90},{"p":0.686,"f":-132},{"p":0.686,"f":22},
{"p":0.687,"f":-26},{"p":0.687,"f":50},{"p":0.687,"f":106},
{"p":0.688,"f":67},{"p":0.688,"f":-121},
{"p":0.689,"f":-4},{"p":0.689,"f":115},{"p":0.689,"f":-72},{"p":0.689,"f":41},
{"p":0.690,"f":99},{"p":0.690,"f":-149},{"p":0.690,"f":12},
{"p":0.691,"f":-47},{"p":0.691,"f":136},
{"p":0.692,"f":31},{"p":0.692,"f":-83},{"p":0.692,"f":70},{"p":0.692,"f":-18},
{"p":0.693,"f":122},{"p":0.693,"f":-37},{"p":0.693,"f":58},
{"p":0.694,"f":-98},{"p":0.694,"f":8},
{"p":0.695,"f":148},{"p":0.695,"f":-62},{"p":0.695,"f":-115},{"p":0.695,"f":93},
{"p":0.696,"f":-32},{"p":0.696,"f":26},{"p":0.696,"f":74},
{"p":0.697,"f":110},{"p":0.697,"f":-136},
{"p":0.698,"f":-68},{"p":0.698,"f":44},{"p":0.698,"f":129},{"p":0.698,"f":-5},
{"p":0.699,"f":17},{"p":0.699,"f":-94},{"p":0.699,"f":87},
{"p":0.700,"f":-127},{"p":0.700,"f":141},
{"p":0.701,"f":64},{"p":0.701,"f":-22},{"p":0.701,"f":-51},{"p":0.701,"f":115},
{"p":0.702,"f":-11},{"p":0.702,"f":83},{"p":0.702,"f":-143},
{"p":0.703,"f":133},{"p":0.703,"f":37},
{"p":0.704,"f":-74},{"p":0.704,"f":6},{"p":0.704,"f":100},{"p":0.704,"f":-106},
{"p":0.705,"f":48},{"p":0.705,"f":-40},{"p":0.705,"f":125},
{"p":0.706,"f":-118},{"p":0.706,"f":69},
{"p":0.707,"f":90},{"p":0.707,"f":-15},{"p":0.707,"f":9},{"p":0.707,"f":-81},
{"p":0.708,"f":-140},{"p":0.708,"f":138},{"p":0.708,"f":52},
{"p":0.709,"f":27},{"p":0.709,"f":-57},
{"p":0.710,"f":117},{"p":0.710,"f":-96},{"p":0.710,"f":78},{"p":0.710,"f":-30},
{"p":0.711,"f":-63},{"p":0.711,"f":19},{"p":0.711,"f":146},
{"p":0.712,"f":82},{"p":0.712,"f":-126},
{"p":0.713,"f":-8},{"p":0.713,"f":104},{"p":0.713,"f":-44},{"p":0.713,"f":35},
{"p":0.714,"f":139},{"p":0.714,"f":-109},{"p":0.714,"f":61},
{"p":0.715,"f":-52},{"p":0.715,"f":11},
{"p":0.716,"f":71},{"p":0.716,"f":-134},{"p":0.716,"f":120},{"p":0.716,"f":-19},
{"p":0.717,"f":-37},{"p":0.717,"f":94},{"p":0.717,"f":2},
{"p":0.718,"f":126},{"p":0.718,"f":-73},
{"p":0.719,"f":-100},{"p":0.719,"f":46},{"p":0.719,"f":-147},{"p":0.719,"f":85},
{"p":0.720,"f":13},{"p":0.720,"f":-27},{"p":0.720,"f":132},
{"p":0.721,"f":97},{"p":0.721,"f":-61},
{"p":0.722,"f":-120},{"p":0.722,"f":28},{"p":0.722,"f":68},{"p":0.722,"f":-88},
{"p":0.723,"f":54},{"p":0.723,"f":-4},{"p":0.723,"f":111},
{"p":0.724,"f":-43},{"p":0.724,"f":145},
{"p":0.725,"f":137},{"p":0.725,"f":-78},{"p":0.725,"f":-136},{"p":0.725,"f":40},
{"p":0.726,"f":-15},{"p":0.726,"f":89},{"p":0.726,"f":23},
{"p":0.727,"f":65},{"p":0.727,"f":-104},
{"p":0.728,"f":-90},{"p":0.728,"f":121},{"p":0.728,"f":7},{"p":0.728,"f":-56},
{"p":0.729,"f":31},{"p":0.729,"f":-150},{"p":0.729,"f":100},
{"p":0.730,"f":-24},{"p":0.730,"f":76},
{"p":0.731,"f":113},{"p":0.731,"f":-42},{"p":0.731,"f":-117},{"p":0.731,"f":52},
{"p":0.732,"f":-66},{"p":0.732,"f":134},{"p":0.732,"f":15},
{"p":0.733,"f":89},{"p":0.733,"f":-11},
{"p":0.734,"f":-131},{"p":0.734,"f":59},{"p":0.734,"f":142},{"p":0.734,"f":-77},
{"p":0.735,"f":41},{"p":0.735,"f":-34},{"p":0.735,"f":96},
{"p":0.736,"f":-107},{"p":0.736,"f":118},
{"p":0.737,"f":20},{"p":0.737,"f":-60},{"p":0.737,"f":82},{"p":0.737,"f":-141},
{"p":0.738,"f":128},{"p":0.738,"f":-2},{"p":0.738,"f":47},
{"p":0.739,"f":-50},{"p":0.739,"f":91},
{"p":0.740,"f":6},{"p":0.740,"f":-122},{"p":0.740,"f":136},{"p":0.740,"f":-35},
{"p":0.741,"f":72},{"p":0.741,"f":-87},{"p":0.741,"f":25},
{"p":0.742,"f":-16},{"p":0.742,"f":107},
{"p":0.743,"f":149},{"p":0.743,"f":-68},{"p":0.743,"f":-110},{"p":0.743,"f":57},
{"p":0.744,"f":-45},{"p":0.744,"f":33},{"p":0.744,"f":122},
{"p":0.745,"f":84},{"p":0.745,"f":-138},
{"p":0.746,"f":-29},{"p":0.746,"f":66},{"p":0.746,"f":-94},{"p":0.746,"f":11},
{"p":0.747,"f":102},{"p":0.747,"f":-7},{"p":0.747,"f":143},
{"p":0.748,"f":-125},{"p":0.748,"f":39},
{"p":0.749,"f":58},{"p":0.749,"f":-53},{"p":0.749,"f":90},{"p":0.749,"f":-18}
]
},
"vconcat": [
{
  "width": 1541,
  "height": 522,
  "layer": [
    {"data": {"name": "pts"},
     "mark": {"type": "point", "shape": "circle", "filled": false, "color": "#5a8ded", "strokeWidth": 1.7, "size": 36, "opacity": 0.68, "clip": true},
     "encoding": {
       "x": {"field": "p", "type": "quantitative", "scale": {"domain": [0.25, 0.75], "nice": false, "zero": false}, "axis": {"values": [0.3, 0.4, 0.5, 0.6, 0.7], "labels": false, "title": null}},
       "y": {"field": "f", "type": "quantitative", "scale": {"domain": [-150, 150], "nice": false, "zero": false}, "axis": {"values": [-150, -100, -50, 0, 50, 100, 150], "format": "d", "title": "Relative Flux (in ppm)"}}}},
    {"data": {"values": [{}]},
     "mark": {"type": "rect", "fill": "#ffe27e"},
     "encoding": {
       "x": {"datum": 0.1523361, "type": "quantitative", "scale": {"domain": [0.25, 0.75], "nice": false, "zero": false}},
       "x2": {"datum": 0.1679104},
       "y": {"datum": 206.3218, "type": "quantitative", "scale": {"domain": [-150, 150], "nice": false, "zero": false}},
       "y2": {"datum": -434.4828}}},
    {"data": {"values": [{}]},
     "mark": {"type": "rect", "fill": {"gradient": "linear", "x1": 0, "y1": 0, "x2": 1, "y2": 0, "stops": [{"offset": 0, "color": "#ffe27e"}, {"offset": 0.55, "color": "#ffdd68"}, {"offset": 1, "color": "#ffd12c"}]}},
     "encoding": {
       "x": {"datum": 0.1679104, "type": "quantitative", "scale": {"domain": [0.25, 0.75], "nice": false, "zero": false}},
       "x2": {"datum": 0.7950995},
       "y": {"datum": -419.5402, "type": "quantitative", "scale": {"domain": [-150, 150], "nice": false, "zero": false}},
       "y2": {"datum": -434.4828}}},
    {"data": {"values": [{}]},
     "mark": {"type": "rect", "fill": "#ff6600"},
     "encoding": {
       "x": {"datum": 0.1679104, "type": "quantitative", "scale": {"domain": [0.25, 0.75], "nice": false, "zero": false}},
       "x2": {"datum": 0.172453},
       "y": {"datum": 206.3218, "type": "quantitative", "scale": {"domain": [-150, 150], "nice": false, "zero": false}},
       "y2": {"datum": -419.5402}}},
    {"data": {"values": [{}]},
     "mark": {"type": "rect", "fill": "#ff6600"},
     "encoding": {
       "x": {"datum": 0.1679104, "type": "quantitative", "scale": {"domain": [0.25, 0.75], "nice": false, "zero": false}},
       "x2": {"datum": 0.7950995},
       "y": {"datum": -412.069, "type": "quantitative", "scale": {"domain": [-150, 150], "nice": false, "zero": false}},
       "y2": {"datum": -419.5402}}},
    {"data": {"values": [{}]},
     "mark": {"type": "point", "shape": "M0,0L47,0C46,100 30,210 0,293Z", "size": 4, "filled": true, "fill": "#3d2c1b", "strokeWidth": 0, "opacity": 1},
     "encoding": {
       "x": {"datum": 0.1523361, "type": "quantitative", "scale": {"domain": [0.25, 0.75], "nice": false, "zero": false}},
       "y": {"datum": 206.3218, "type": "quantitative", "scale": {"domain": [-150, 150], "nice": false, "zero": false}}}},
    {"data": {"values": [{}]},
     "mark": {"type": "point", "shape": "M47,4C46,100 30,210 4,286", "size": 4, "filled": false, "stroke": "#ff6a00", "strokeWidth": 1.5, "opacity": 1},
     "encoding": {
       "x": {"datum": 0.1523361, "type": "quantitative", "scale": {"domain": [0.25, 0.75], "nice": false, "zero": false}},
       "y": {"datum": 206.3218, "type": "quantitative", "scale": {"domain": [-150, 150], "nice": false, "zero": false}}}},
    {"data": {"values": [{}]},
     "mark": {"type": "text", "text": "Phase-folded occultation signal in the TESS data", "font": "Lato", "fontWeight": "bold", "fontSize": 72.5, "color": "#512d18", "align": "center", "baseline": "alphabetic"},
     "encoding": {
       "x": {"datum": 0.4985, "type": "quantitative", "scale": {"domain": [0.25, 0.75], "nice": false, "zero": false}},
       "y": {"datum": 156.32, "type": "quantitative", "scale": {"domain": [-150, 150], "nice": false, "zero": false}}}},
    {"data": {"name": "samples"},
     "mark": {"type": "line", "stroke": "#ff4500", "strokeWidth": 2.2, "opacity": 0.6, "clip": true},
     "encoding": {
       "x": {"field": "p", "type": "quantitative", "scale": {"domain": [0.25, 0.75], "nice": false, "zero": false}},
       "y": {"field": "f", "type": "quantitative", "scale": {"domain": [-150, 150], "nice": false, "zero": false}},
       "detail": {"field": "s", "type": "nominal"}}},
    {"data": {"name": "model"},
     "mark": {"type": "line", "stroke": "#000080", "strokeWidth": 5.5, "clip": true},
     "encoding": {
       "x": {"field": "p", "type": "quantitative", "scale": {"domain": [0.25, 0.75], "nice": false, "zero": false}},
       "y": {"field": "m", "type": "quantitative", "scale": {"domain": [-150, 150], "nice": false, "zero": false}}}},
    {"data": {"name": "bins"},
     "mark": {"type": "rule", "color": "#000080", "strokeWidth": 4.5, "clip": true},
     "encoding": {
       "x": {"field": "p", "type": "quantitative", "scale": {"domain": [0.25, 0.75], "nice": false, "zero": false}},
       "y": {"field": "lo", "type": "quantitative", "scale": {"domain": [-150, 150], "nice": false, "zero": false}},
       "y2": {"field": "hi"}}},
    {"data": {"name": "bins"},
     "mark": {"type": "tick", "orient": "horizontal", "size": 16, "thickness": 4.5, "color": "#000080", "opacity": 1, "clip": true},
     "encoding": {
       "x": {"field": "p", "type": "quantitative", "scale": {"domain": [0.25, 0.75], "nice": false, "zero": false}},
       "y": {"field": "lo", "type": "quantitative", "scale": {"domain": [-150, 150], "nice": false, "zero": false}}}},
    {"data": {"name": "bins"},
     "mark": {"type": "tick", "orient": "horizontal", "size": 16, "thickness": 4.5, "color": "#000080", "opacity": 1, "clip": true},
     "encoding": {
       "x": {"field": "p", "type": "quantitative", "scale": {"domain": [0.25, 0.75], "nice": false, "zero": false}},
       "y": {"field": "hi", "type": "quantitative", "scale": {"domain": [-150, 150], "nice": false, "zero": false}}}},
    {"data": {"name": "bins"},
     "mark": {"type": "point", "shape": "circle", "filled": true, "fill": "#ffffff", "stroke": "#000080", "strokeWidth": 3, "size": 140, "opacity": 1, "clip": true},
     "encoding": {
       "x": {"field": "p", "type": "quantitative", "scale": {"domain": [0.25, 0.75], "nice": false, "zero": false}},
       "y": {"field": "v", "type": "quantitative", "scale": {"domain": [-150, 150], "nice": false, "zero": false}}}},
    {"data": {"values": [{}]},
     "mark": {"type": "rect", "filled": false, "color": "#000000", "strokeWidth": 1.6},
     "encoding": {
       "x": {"datum": 0.25, "type": "quantitative", "scale": {"domain": [0.25, 0.75], "nice": false, "zero": false}},
       "x2": {"datum": 0.75},
       "y": {"datum": -150, "type": "quantitative", "scale": {"domain": [-150, 150], "nice": false, "zero": false}},
       "y2": {"datum": 150}}}
  ]
},
{
  "width": 1541,
  "height": 261,
  "layer": [
    {"data": {"name": "pts"},
     "mark": {"type": "point", "shape": "circle", "filled": false, "color": "#5a8ded", "strokeWidth": 1.7, "size": 36, "opacity": 0.68, "clip": true},
     "encoding": {
       "x": {"field": "p", "type": "quantitative", "scale": {"domain": [0.25, 0.75], "nice": false, "zero": false}, "axis": {"values": [0.3, 0.4, 0.5, 0.6, 0.7], "format": ".1f", "title": "Phase"}},
       "y": {"field": "f", "type": "quantitative", "scale": {"domain": [-150, 150], "nice": false, "zero": false}, "axis": {"values": [-100, 0, 100], "format": "d", "title": "Residuals (ppm)"}}}},
    {"data": {"values": [{}]},
     "mark": {"type": "rule", "color": "#000000", "strokeWidth": 6, "strokeDash": [24, 10.4]},
     "encoding": {
       "y": {"datum": 0, "type": "quantitative", "scale": {"domain": [-150, 150], "nice": false, "zero": false}}}},
    {"data": {"name": "bins"},
     "mark": {"type": "rule", "color": "#000080", "strokeWidth": 4.2, "clip": true},
     "encoding": {
       "x": {"field": "p", "type": "quantitative", "scale": {"domain": [0.25, 0.75], "nice": false, "zero": false}},
       "y": {"field": "rlo", "type": "quantitative", "scale": {"domain": [-150, 150], "nice": false, "zero": false}},
       "y2": {"field": "rhi"}}},
    {"data": {"name": "bins"},
     "mark": {"type": "tick", "orient": "horizontal", "size": 15, "thickness": 4, "color": "#000080", "opacity": 1, "clip": true},
     "encoding": {
       "x": {"field": "p", "type": "quantitative", "scale": {"domain": [0.25, 0.75], "nice": false, "zero": false}},
       "y": {"field": "rlo", "type": "quantitative", "scale": {"domain": [-150, 150], "nice": false, "zero": false}}}},
    {"data": {"name": "bins"},
     "mark": {"type": "tick", "orient": "horizontal", "size": 15, "thickness": 4, "color": "#000080", "opacity": 1, "clip": true},
     "encoding": {
       "x": {"field": "p", "type": "quantitative", "scale": {"domain": [0.25, 0.75], "nice": false, "zero": false}},
       "y": {"field": "rhi", "type": "quantitative", "scale": {"domain": [-150, 150], "nice": false, "zero": false}}}},
    {"data": {"name": "bins"},
     "mark": {"type": "point", "shape": "circle", "filled": true, "fill": "#ffffff", "stroke": "#000080", "strokeWidth": 2.8, "size": 110, "opacity": 1, "clip": true},
     "encoding": {
       "x": {"field": "p", "type": "quantitative", "scale": {"domain": [0.25, 0.75], "nice": false, "zero": false}},
       "y": {"field": "r", "type": "quantitative", "scale": {"domain": [-150, 150], "nice": false, "zero": false}}}},
    {"data": {"values": [{}]},
     "mark": {"type": "rect", "filled": false, "color": "#000000", "strokeWidth": 1.6},
     "encoding": {
       "x": {"datum": 0.25, "type": "quantitative", "scale": {"domain": [0.25, 0.75], "nice": false, "zero": false}},
       "x2": {"datum": 0.75},
       "y": {"datum": -150, "type": "quantitative", "scale": {"domain": [-150, 150], "nice": false, "zero": false}},
       "y2": {"datum": 150}}},
    {"data": {"values": [{}]},
     "mark": {"type": "text", "text": "Figure 4", "font": "Lato", "fontWeight": "bold", "fontSize": 98, "color": "#512d18", "align": "left", "baseline": "alphabetic"},
     "encoding": {
       "x": {"datum": 0.1705, "type": "quantitative", "scale": {"domain": [0.25, 0.75], "nice": false, "zero": false}},
       "y": {"datum": -285.63, "type": "quantitative", "scale": {"domain": [-150, 150], "nice": false, "zero": false}}}}
  ]
}
]
}
